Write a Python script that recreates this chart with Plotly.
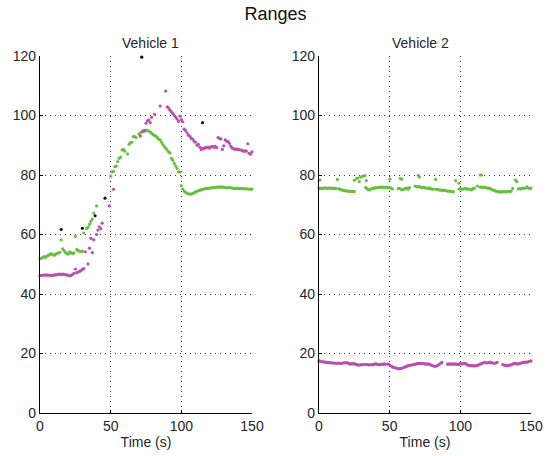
import plotly.graph_objects as go
from plotly.subplots import make_subplots

# ---------------- Vehicle 1 ----------------
v1_green_t = [0,1,2,3,4,5,6,7,8,9,10,11,12,13,14,15,16,17,18,19,20,21,22,23,24,25,26,27,28,29,30,31,
              33,34,35,36,37,38,40,
              50,51,52,53,54,55,56,57,58,59,60,62,63,64,65,66,67,68,70,71,72,73,74,75,76,77,78,79,80,
              81,82,83,84,85,86,87,88,89,90,91,92,93,94,95,96,97,98,99,
              100,101,102,103,104,105,106,107,108,109,110,111,112,113,114,115,116,117,118,119,120,121,
              122,123,124,125,126,127,128,129,130,131,132,133,134,135,136,137,138,139,140,141,142,143,
              144,145,146,147,148,149,150]
v1_green_v = [52.0,52.0,52.3,52.6,52.3,52.8,53.0,53.3,53.6,53.2,53.0,53.4,53.6,53.8,54.0,58.2,55.2,54.6,54.0,53.6,53.4,54.2,53.8,53.6,53.8,59.4,55.0,54.6,54.4,54.2,54.4,60.5,
              62.0,62.4,63.4,64.4,65.2,67.2,69.6,
              79.6,81.1,81.2,82.8,83.0,84.5,85.6,86.0,88.4,88.6,88.0,87.1,90.3,90.9,91.0,92.9,92.9,92.6,93.8,94.0,94.6,94.9,95.0,95.1,95.0,94.7,94.4,94.0,93.6,
              93.3,93.1,92.6,92.0,91.8,91.0,90.2,89.5,89.0,88.4,87.8,87.4,85.6,85.0,83.9,83.0,82.2,81.1,81.0,
              76.4,75.3,74.6,74.2,73.9,73.7,73.6,73.6,73.8,74.0,74.3,74.5,74.7,74.9,75.0,75.2,75.3,75.4,75.5,75.5,75.6,75.7,
              75.7,75.8,75.8,75.9,75.9,75.9,76.0,75.9,75.9,75.8,75.8,75.7,75.8,75.7,75.6,75.5,75.5,75.6,75.5,75.4,75.4,75.5,
              75.4,75.3,75.4,75.3,75.3,75.2,75.3]

v1_mag_t = [0,1,2,3,4,5,6,7,8,9,10,11,12,13,14,15,16,17,18,19,20,21,22,23,24,25,26,27,28,29,30,31,
            32,34,35,36,37,38,40,41,42,43,44,49,52,
            71,73,74,75,76,77,78,79,81,85,89,90,91,92,93,94,95,96,97,98,99,100,101,102,103,104,105,106,
            107,108,109,110,111,112,113,114,115,116,117,118,119,120,121,122,123,124,125,126,127,128,129,
            130,131,132,133,134,135,136,137,138,139,140,141,142,143,144,145,146,147,148,149,150]
v1_mag_v = [46.2,46.3,46.3,46.4,46.3,46.4,46.3,46.3,46.2,46.3,46.4,46.4,46.5,46.6,46.7,46.6,46.7,46.6,46.5,46.4,46.3,46.1,46.2,46.6,46.9,48.4,47.2,47.4,47.6,47.9,48.3,48.5,
            54.2,50.1,55.4,58.7,53.9,58.2,60.0,61.5,62.6,62.0,63.8,69.6,75.2,
            93.1,94.6,94.8,97.4,98.2,98.5,97.6,99.4,100.4,103.2,108.2,102.9,102.5,101.8,101.2,100.6,100.0,99.4,98.8,98.0,99.8,98.6,97.9,95.4,95.0,94.2,93.4,93.0,
            92.3,92.0,91.4,91.0,90.0,90.3,89.4,88.5,89.0,88.8,89.2,89.2,89.4,89.0,89.5,89.6,89.3,89.6,89.2,92.6,92.3,92.1,88.6,
            89.8,91.8,91.4,91.2,90.6,89.7,89.0,88.9,88.6,88.8,88.6,88.5,88.4,88.2,88.0,88.1,88.0,90.5,87.3,87.0,87.8]

v1_black_t = [15, 30, 39, 46, 72, 115]
v1_black_v = [61.7, 62.1, 66.3, 72.2, 119.6, 97.6]

# ---------------- Vehicle 2 ----------------
v2_green_t = [0,1,2,3,4,5,6,7,8,9,10,11,12,14,15,16,17,18,19,20,21,22,23,24,25,
              33,34,35,36,37,38,39,40,41,42,43,44,45,46,47,48,49,50,51,52,
              56,57,58,59,60,61,62,63,64,
              68,69,70,71,72,73,74,75,76,77,78,79,80,81,83,84,85,86,87,88,89,90,91,92,93,94,95,
              99,100,101,102,103,104,105,106,107,108,109,110,112,114,115,116,117,118,119,120,121,122,
              123,124,125,126,127,128,129,130,131,132,133,134,135,136,137,
              141,142,143,144,145,146,147,148,149,150,
              0.7,13,25,26.5,27.5,28.5,29.5,31,32.5,33.5,50.2,57.5,58.5,70.3,71,82.5,96.7,99,114,115,139,140]
v2_green_v = [75.6,75.4,75.6,75.5,75.7,75.6,75.5,75.6,75.7,75.5,75.6,75.4,75.5,75.4,75.2,75.0,74.9,74.8,74.7,74.6,74.6,74.5,74.5,74.4,74.4,
              75.8,75.4,75.0,75.1,75.3,75.5,75.6,75.7,75.8,75.8,75.9,75.9,75.8,75.9,75.8,75.9,75.8,75.7,75.6,75.3,
              75.4,75.5,75.2,75.0,75.3,75.4,75.6,75.2,75.8,
              76.3,76.1,76.0,76.1,75.9,75.8,75.9,75.7,75.6,75.5,75.7,75.4,75.2,75.3,75.2,75.1,75.0,74.9,74.9,74.8,74.8,74.7,74.6,74.6,74.5,74.4,74.4,
              75.3,75.4,75.2,75.3,75.4,75.4,75.2,75.3,75.2,75.0,75.4,75.6,76.3,75.9,75.9,75.8,75.9,75.8,75.6,75.6,75.5,75.2,
              75.0,74.8,74.6,74.5,74.4,74.3,74.3,74.4,74.4,74.3,74.4,74.5,74.4,74.6,75.5,
              75.3,75.4,75.3,75.6,75.5,75.6,76.0,75.6,75.5,75.6,
              78.3,78.5,78.2,78.8,79.0,77.8,79.3,79.6,79.8,78.1,78.6,78.8,78.6,79.9,79.3,78.5,78.1,77.2,80.0,80.0,78.3,77.8]

v2_mag_t = [0,1,2,3,4,5,6,7,8,9,10,11,12,13,14,15,16,17,18,19,20,21,22,23,24,25,26,27,28,29,30,31,32,33,34,35,
            36,37,38,39,40,41,42,43,44,45,46,47,49,50,51,52,53,54,55,56,57,58,59,60,61,62,63,64,65,66,67,68,69,70,
            71,72,73,74,75,76,77,78,79,80,81,82,83,84,85,86,87,
            91,92,93,94,95,96,97,98,99,100,101,102,103,104,105,106,107,108,109,110,111,112,113,114,115,116,117,
            118,119,120,121,122,123,124,125,126,
            130,131,132,133,134,135,136,137,138,139,140,141,142,143,144,145,146,147,148,149,150]
v2_mag_v = [17.5,17.4,17.3,17.2,17.1,17.1,17.0,16.9,16.9,16.8,16.8,16.8,16.7,16.7,16.8,16.7,16.7,16.8,16.9,16.8,16.9,16.7,16.5,16.5,16.6,16.5,16.4,16.2,16.1,16.2,16.2,16.3,16.3,16.3,16.3,16.2,
            16.2,16.3,16.2,16.4,16.5,16.4,16.3,16.2,16.4,16.3,16.5,16.4,16.4,16.1,15.8,15.5,15.3,15.2,15.1,14.9,14.9,15.0,15.1,15.3,15.5,15.7,15.9,16.0,16.1,16.2,16.3,16.4,16.5,16.6,
            16.7,16.7,16.7,16.6,16.5,16.4,16.5,16.4,16.2,16.0,15.8,15.7,15.8,16.0,16.3,16.7,17.0,
            16.4,16.5,16.4,16.5,16.4,16.5,16.4,16.3,16.4,16.6,16.5,16.6,16.7,16.5,16.2,16.0,15.9,15.9,15.9,15.8,15.9,16.0,16.2,16.4,16.6,16.8,17.0,
            16.9,16.8,16.9,17.1,16.9,16.8,16.7,16.8,17.0,
            16.3,16.1,16.0,15.9,16.0,16.1,16.2,16.4,16.7,16.7,16.5,16.5,16.6,16.8,16.9,17.0,17.1,17.1,17.2,17.4,17.5]

x_ticks = [0, 50, 100, 150]
y_ticks = [0, 20, 40, 60, 80, 100, 120]

GREEN = "#66bf3f"
MAGENTA = "#b94fae"
FONT = "Liberation Sans, Arial, sans-serif"
TXT = "#262626"

fig = make_subplots(rows=1, cols=2, subplot_titles=("Vehicle 1", "Vehicle 2"))

def add(t, v, color, col):
    fig.add_trace(go.Scatter(x=t, y=v, mode="markers",
                             marker=dict(size=3.2, color=color, line=dict(width=0)),
                             showlegend=False, cliponaxis=False), row=1, col=col)

add(v1_green_t, v1_green_v, GREEN, 1)
add(v1_mag_t, v1_mag_v, MAGENTA, 1)
add(v1_black_t, v1_black_v, "#111111", 1)
add(v2_green_t, v2_green_v, GREEN, 2)
add(v2_mag_t, v2_mag_v, MAGENTA, 2)

axis_common = dict(showline=True, linecolor="#000000", linewidth=1.2,
                   ticks="inside", ticklen=3, tickcolor="#000000",
                   showgrid=True, gridcolor="#333333", griddash="1px,4px", gridwidth=1,
                   zeroline=False, mirror=False, automargin=False,
                   tickfont=dict(size=14, color=TXT, family=FONT))

for c in (1, 2):
    fig.update_xaxes(range=[0, 150], tickvals=x_ticks, ticktext=[str(x) for x in x_ticks],
                     title=dict(text="Time (s)", font=dict(size=14, color=TXT, family=FONT), standoff=2),
                     row=1, col=c, **axis_common)
    fig.update_yaxes(range=[0, 120], tickvals=y_ticks, ticktext=[str(y) for y in y_ticks],
                     row=1, col=c, **axis_common)

fig.update_layout(xaxis=dict(domain=[0, 0.4318]), xaxis2=dict(domain=[0.5682, 1]))

for a in fig.layout.annotations:
    a.font = dict(size=14, color=TXT, family=FONT)
    a.yshift = 3

fig.update_layout(
    width=551, height=456,
    margin=dict(l=40, r=20, t=56, b=43),
    paper_bgcolor="white", plot_bgcolor="white",
    title=dict(text="Ranges", x=0.5, xanchor="center", y=0.969, yanchor="middle",
               font=dict(size=18, color="#111111", family=FONT)),
    font=dict(family=FONT),
)

fig.write_html("out.html", config={"displayModeBar": False},
               post_script="document.body.style.margin='0';document.body.style.overflow='hidden';")
